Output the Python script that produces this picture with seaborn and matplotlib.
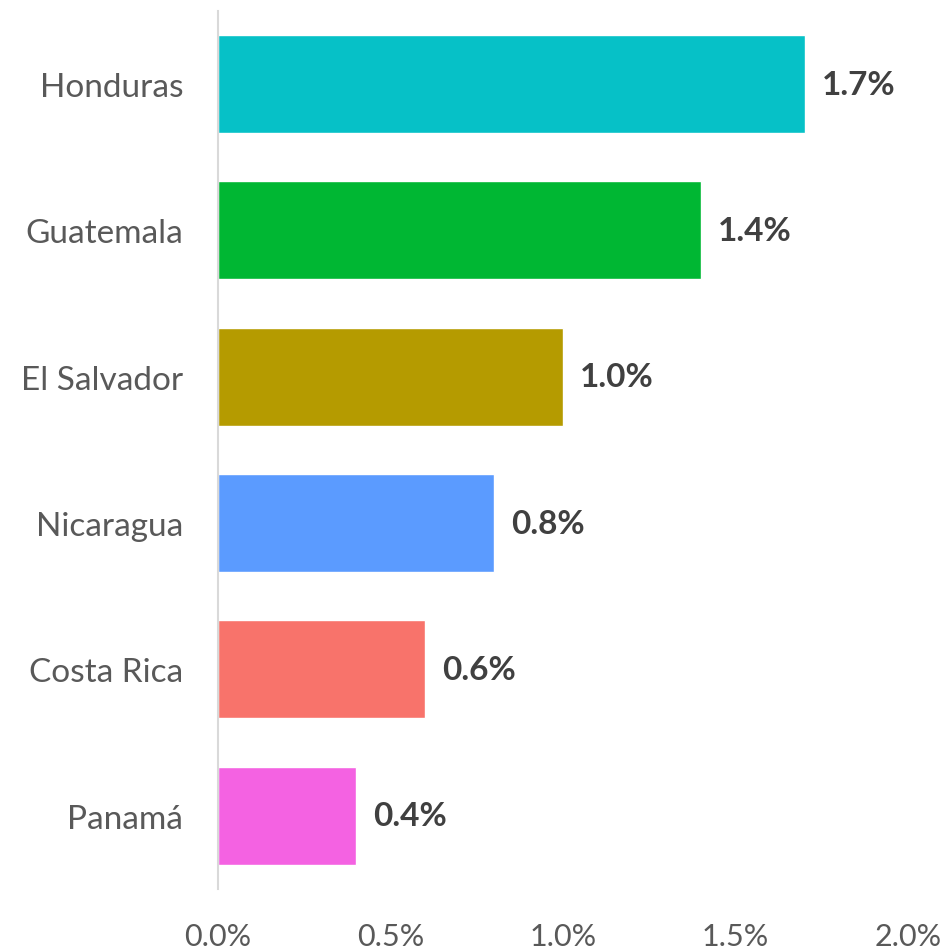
import matplotlib
matplotlib.use("Agg")
import matplotlib.pyplot as plt
import seaborn as sns
import pandas as pd
from matplotlib.ticker import FuncFormatter

countries = ["Honduras", "Guatemala", "El Salvador", "Nicaragua", "Costa Rica", "Panamá"]
values = [1.7, 1.4, 1.0, 0.8, 0.6, 0.4]
colors = ["#06C1C7", "#00B733", "#B59B00", "#5B9BFF", "#F8736B", "#F462E2"]
xticks = [0.0, 0.5, 1.0, 1.5, 2.0]

df = pd.DataFrame({"country": countries, "value": values})

sns.set_style("white")
plt.rcParams["font.family"] = ["Lato", "DejaVu Sans"]

fig = plt.figure(figsize=(9.49, 9.53), dpi=100)
ax = fig.add_axes([0.2297, 0.0662, 0.7271, 0.9212])

sns.barplot(data=df, x="value", y="country", hue="country", palette=colors,
            legend=False, width=0.67, saturation=1, ax=ax)

for i, v in enumerate(values):
    ax.text(v + 0.05, i, f"{v:.1f}%", va="center", ha="left",
            fontsize=24, fontweight="bold", color="#404040")

ax.set_xlim(0, 2.0)
ax.set_ylim(5.5, -0.5)
ax.set_xticks(xticks)
ax.xaxis.set_major_formatter(FuncFormatter(lambda x, p: f"{x:.1f}%"))
ax.set_xlabel("")
ax.set_ylabel("")
ax.tick_params(axis="x", labelsize=22, labelcolor="#595959", length=0, pad=24)
ax.tick_params(axis="y", labelsize=24, labelcolor="#595959", length=0, pad=25)

for s in ["top", "right", "bottom"]:
    ax.spines[s].set_visible(False)
ax.spines["left"].set_color("#D9D9D9")
ax.spines["left"].set_linewidth(1.5)

fig.savefig("out.png", dpi=100)
